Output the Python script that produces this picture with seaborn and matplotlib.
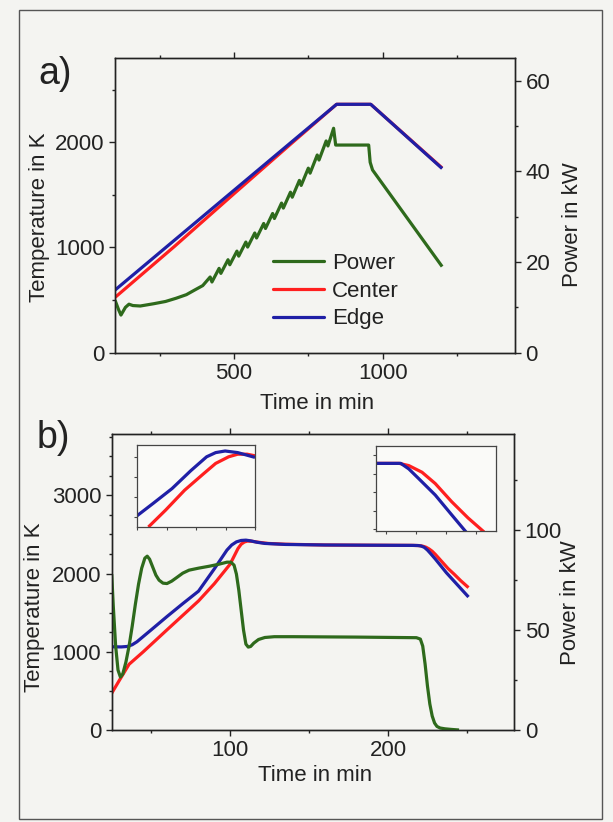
import matplotlib
matplotlib.use("Agg")
import matplotlib.pyplot as plt
from matplotlib.ticker import MultipleLocator, NullFormatter
from matplotlib.lines import Line2D
from matplotlib.patches import Rectangle
import seaborn as sns

# ---- panel a) : slow heating run ----
a_temp_time = [100, 300, 500, 700, 845, 960, 1200]
a_center = [525, 1010, 1510, 2005, 2360, 2360, 1755]
a_edge = [595, 1069, 1543, 2017, 2360, 2360, 1750]

a_power_time = [100, 112, 120, 135, 147, 160, 185, 230, 270, 305, 340, 370, 395,
                420, 426, 450, 456, 480, 486, 510, 516, 540, 546, 570, 576, 600, 606,
                630, 636, 660, 666, 690, 696, 720, 726, 750, 756, 780, 786, 810, 816,
                835, 842, 953, 958, 966, 1200]
a_power = [11.6, 9.5, 8.3, 10.0, 10.7, 10.4, 10.3, 10.8, 11.3, 12.0, 12.8, 13.9, 14.8,
           16.7, 15.6, 18.6, 17.5, 20.5, 19.4, 22.4, 21.3, 24.4, 23.3, 26.4, 25.3, 28.5, 27.4,
           30.7, 29.6, 33.0, 31.9, 35.4, 34.3, 38.0, 36.9, 40.7, 39.6, 43.6, 42.5, 46.7, 45.6,
           49.5, 45.8, 45.8, 42.0, 40.3, 19.0]

# ---- panel b) : fast heating run ----
b_edge_time = [25, 31, 35, 38, 41, 50, 60, 70, 80, 90, 98, 101, 104, 107, 110, 113, 117,
               122, 135, 160, 190, 215, 219, 221, 223, 225, 227, 230, 237, 244, 251]
b_edge = [1064, 1062, 1068, 1090, 1128, 1280, 1450, 1615, 1775, 2060, 2300, 2365, 2405,
          2423, 2427, 2418, 2400, 2385, 2372, 2365, 2362, 2360, 2358, 2352, 2335, 2300,
          2255, 2185, 2010, 1855, 1700]
b_center_time = [25, 30, 36, 45, 60, 80, 90, 100, 103, 105, 107, 109, 111, 114, 118, 124,
                 135, 160, 190, 216, 220, 222, 224, 226, 228, 230, 234, 238, 242, 246, 251]
b_center = [470, 640, 840, 1000, 1280, 1650, 1870, 2120, 2240, 2320, 2375, 2403, 2415,
            2412, 2400, 2385, 2375, 2365, 2362, 2360, 2357, 2350, 2337, 2315, 2285, 2245,
            2155, 2065, 1990, 1910, 1820]
b_power_time = [25, 26, 27.5, 29, 30.5, 32, 34, 36, 38, 40, 42, 44, 46, 47.5, 49, 51, 53,
                55, 57.5, 60, 63, 66, 70, 74, 80, 87, 93, 98, 100.5, 102.5, 104, 105.5,
                107, 108.5, 110, 111.5, 113, 115, 118, 122, 128, 140, 180, 218, 220.5,
                222, 223.5, 225, 226.5, 228, 229.5, 231, 233, 236, 240, 245]
b_power = [78, 62, 42, 30, 26.5, 28, 34, 42, 52, 63, 73, 81, 86, 87, 85.5, 81.5, 77.5,
           75, 73.5, 73.3, 74.5, 76.2, 78.5, 80, 81, 82, 83, 84, 84, 82.5, 78, 70,
           60, 50, 43, 41.5, 41.8, 43.5, 45.3, 46.3, 46.7, 46.7, 46.5, 46.2, 45.5,
           42, 33, 22, 13, 7, 3.5, 1.8, 1.0, 0.6, 0.3, 0]

# insets (zoom on end of heating / start of cooling)
ins1_edge_time = [90, 94.1, 98.9, 103.7, 107.7, 110, 112.4, 115.6, 120]
ins1_edge = [2106, 2168, 2242, 2332, 2401, 2422, 2430, 2422, 2398]
ins1_center_time = [92.9, 97.3, 102.1, 106.9, 110, 113.3, 115.6, 118, 120]
ins1_center = [2050, 2135, 2234, 2316, 2368, 2401, 2414, 2414, 2406]
ins2_edge_time = [215, 221.2, 223.2, 225.7, 229.8, 233.9, 237.5]
ins2_edge = [2356, 2356, 2326, 2273, 2185, 2078, 1985]
ins2_center_time = [215, 220.8, 223.2, 226.5, 229.8, 233.9, 238, 242]
ins2_center = [2356, 2356, 2344, 2308, 2247, 2149, 2061, 1985]

GREEN = "#2e6a1c"
RED = "#ff1f1f"
BLUE = "#1f1fa6"
BG = "#f4f4f1"
INK = "#222222"
LW = 2.3
FS = 16
W, H = 613, 822

sns.set_theme(style="ticks")
plt.rcParams["font.family"] = ["Liberation Sans", "DejaVu Sans"]


def px_box(x0, y0, x1, y1):
    # pixel box (top-left origin) -> figure fraction rect
    return [x0 / W, 1 - y1 / H, (x1 - x0) / W, (y1 - y0) / H]


def line(ax, x, y, color):
    sns.lineplot(x=x, y=y, ax=ax, color=color, linewidth=LW, estimator=None,
                 sort=False, solid_joinstyle="round", solid_capstyle="butt")


def style(ax, ax2):
    for a in (ax, ax2):
        a.set_facecolor(BG)
        for s in a.spines.values():
            s.set_color(INK)
            s.set_linewidth(1.0)
    ax.tick_params(which="both", direction="out", colors=INK, labelsize=FS,
                   top=True, width=1.0)
    ax.tick_params(which="major", length=4, pad=3.5)
    ax.tick_params(which="minor", length=2.5)
    ax2.tick_params(which="both", direction="out", colors=INK, labelsize=FS, width=1.0)
    ax2.tick_params(which="major", length=4, pad=3.5)
    ax2.tick_params(which="minor", length=2.5)
    ax.set_xlabel("")
    ax.set_ylabel("")
    ax2.set_ylabel("")


fig = plt.figure(figsize=(W / 100, H / 100), dpi=100, facecolor=BG)
fig.patches.append(Rectangle((19 / W, 1 - 819 / H), (602 - 19) / W, (819 - 10) / H,
                             transform=fig.transFigure, fill=False, ec="#555555", lw=1.0))

# ---------------- a) ----------------
axa = fig.add_axes(px_box(115, 58, 515, 352.7))
axa2 = axa.twinx()
line(axa, a_temp_time, a_center, RED)
line(axa, a_temp_time, a_edge, BLUE)
line(axa2, a_power_time, a_power, GREEN)
style(axa, axa2)
axa.set_xlim(100, 1445)
axa.set_ylim(0, 2800)
axa2.set_ylim(0, 65)
axa.xaxis.set_major_locator(MultipleLocator(500))
axa.xaxis.set_minor_locator(MultipleLocator(250))
axa.yaxis.set_major_locator(MultipleLocator(1000))
axa.yaxis.set_minor_locator(MultipleLocator(500))
axa2.yaxis.set_major_locator(MultipleLocator(20))
axa2.yaxis.set_minor_locator(MultipleLocator(10))
axa.set_xlabel("Time in min", fontsize=FS, color=INK)
axa.xaxis.set_label_coords(0.505, -0.137)
axa.set_ylabel("Temperature in K", fontsize=FS, color=INK)
axa.yaxis.set_label_coords(-0.163, 0.46)
axa2.set_ylabel("Power in kW", fontsize=FS, color=INK)
axa2.yaxis.set_label_coords(1.118, 0.433)

handles = [Line2D([], [], color=GREEN, lw=LW), Line2D([], [], color=RED, lw=LW),
           Line2D([], [], color=BLUE, lw=LW)]
fig.legend(handles, ["Power", "Center", "Edge"], loc="upper left",
           bbox_to_anchor=(273 / W, 1 - 253 / H), frameon=False, fontsize=FS,
           handlelength=2.3, handletextpad=0.36, labelspacing=0.3, borderpad=0,
           borderaxespad=0, labelcolor=INK)

fig.text(55 / W, 1 - 74 / H, "a)", fontsize=27, color=INK, ha="center", va="center")

# ---------------- b) ----------------
axb = fig.add_axes(px_box(111.7, 434.3, 514.3, 730))
axb2 = axb.twinx()
line(axb, b_center_time, b_center, RED)
line(axb, b_edge_time, b_edge, BLUE)
line(axb2, b_power_time, b_power, GREEN)
style(axb, axb2)
axb.set_xlim(25, 280)
axb.set_ylim(0, 3780)
axb2.set_ylim(0, 148)
axb.xaxis.set_major_locator(MultipleLocator(100))
axb.xaxis.set_minor_locator(MultipleLocator(50))
axb.yaxis.set_major_locator(MultipleLocator(1000))
axb.yaxis.set_minor_locator(MultipleLocator(250))
axb2.yaxis.set_major_locator(MultipleLocator(50))
axb2.yaxis.set_minor_locator(MultipleLocator(25))
axb.set_xlabel("Time in min", fontsize=FS, color=INK)
axb.xaxis.set_label_coords(0.505, -0.118)
axb.set_ylabel("Temperature in K", fontsize=FS, color=INK)
axb.yaxis.set_label_coords(-0.165, 0.416)
axb2.set_ylabel("Power in kW", fontsize=FS, color=INK)
axb2.yaxis.set_label_coords(1.1135, 0.43)

fig.text(53 / W, 1 - 438 / H, "b)", fontsize=27, color=INK, ha="center", va="center")

# insets
for box, (et, ev, ct, cv), xl, yl in [
    ((137, 445, 255, 527), (ins1_edge_time, ins1_edge, ins1_center_time, ins1_center),
     (90, 120), (2050, 2460)),
    ((376, 446, 496, 531), (ins2_edge_time, ins2_edge, ins2_center_time, ins2_center),
     (215, 245), (1990, 2450)),
]:
    ins = fig.add_axes(px_box(*box))
    ins.set_facecolor("#fafaf8")
    line(ins, ct, cv, RED)
    line(ins, et, ev, BLUE)
    ins.set_xlim(*xl)
    ins.set_ylim(*yl)
    ins.set_xlabel("")
    ins.set_ylabel("")
    ins.xaxis.set_major_locator(MultipleLocator(7.5))
    ins.yaxis.set_major_locator(MultipleLocator(100))
    ins.xaxis.set_major_formatter(NullFormatter())
    ins.yaxis.set_major_formatter(NullFormatter())
    ins.tick_params(direction="out", length=2, width=0.8, colors="#444444")
    for s in ins.spines.values():
        s.set_color("#444444")
        s.set_linewidth(0.9)

fig.savefig("out.png", dpi=100, facecolor=BG)
